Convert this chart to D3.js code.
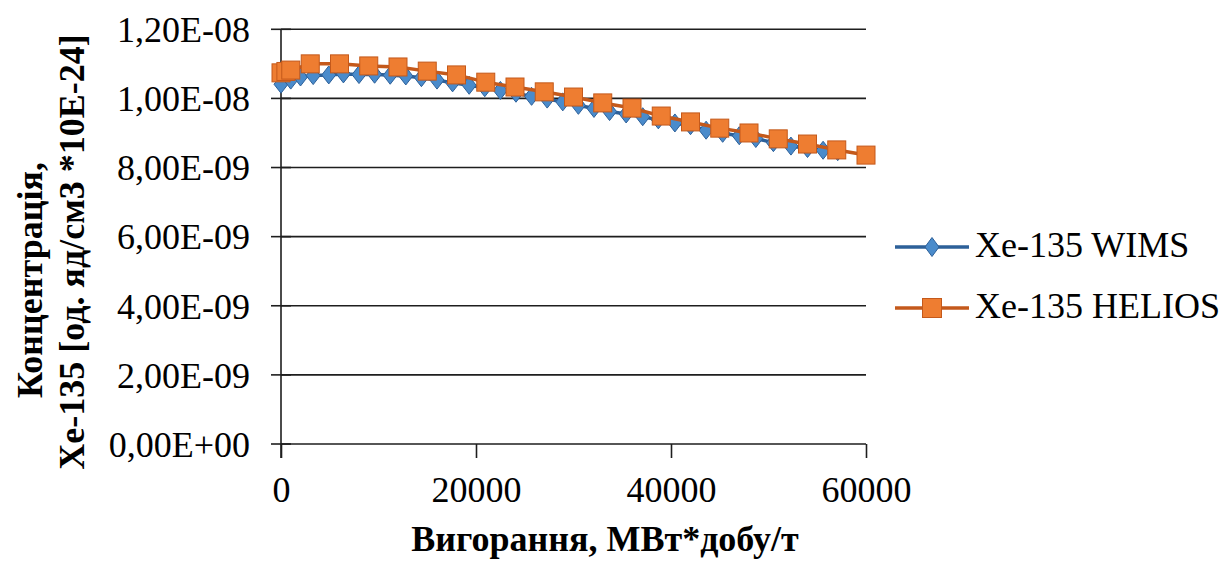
<!DOCTYPE html>
<html>
<head>
<meta charset="utf-8">
<script src="https://cdn.jsdelivr.net/npm/d3@7"></script>
</head>
<body style="margin:0;background:#fff">
<svg id="chart" width="1223" height="562" font-family="Liberation Serif" style="display:block;font-family:'Liberation Serif'"></svg>
<script>
// ---- data ----
const wimsX = [0, 1000, 2000, 3300, 4900, 6400, 8000, 9600, 11200, 12800, 14400, 16000, 17600, 19300, 20900, 22500, 24100, 25700, 27300, 28900, 30500, 32100, 33700, 35400, 37100, 38700, 40400, 42000, 43600, 45300, 47000, 48700, 50500, 52300, 54000, 55600, 57100];
const wimsY = [1.041e-8, 1.053e-8, 1.062e-8, 1.066e-8, 1.068e-8, 1.071e-8, 1.069e-8, 1.070e-8, 1.067e-8, 1.065e-8, 1.060e-8, 1.053e-8, 1.045e-8, 1.038e-8, 1.031e-8, 1.023e-8, 1.015e-8, 1.006e-8, 0.998e-8, 0.990e-8, 0.980e-8, 0.971e-8, 0.962e-8, 0.955e-8, 0.947e-8, 0.938e-8, 0.929e-8, 0.921e-8, 0.908e-8, 0.899e-8, 0.892e-8, 0.884e-8, 0.872e-8, 0.862e-8, 0.855e-8, 0.850e-8, 0.846e-8];
const heliosX = [0, 500, 1000, 3000, 6000, 9000, 12000, 15000, 18000, 21000, 24000, 27000, 30000, 33000, 36000, 39000, 42000, 45000, 48000, 51000, 54000, 57000, 60000];
const heliosY = [1.074e-8, 1.078e-8, 1.082e-8, 1.100e-8, 1.100e-8, 1.094e-8, 1.091e-8, 1.079e-8, 1.068e-8, 1.047e-8, 1.033e-8, 1.019e-8, 1.004e-8, 0.987e-8, 0.972e-8, 0.949e-8, 0.932e-8, 0.914e-8, 0.900e-8, 0.883e-8, 0.868e-8, 0.851e-8, 0.836e-8];
const seriesNames = ["Xe-135 WIMS", "Xe-135 HELIOS"];
const xTickValues = [0, 20000, 40000, 60000];
const xTickLabels = ["0", "20000", "40000", "60000"];
const yTickValues = [0, 2e-9, 4e-9, 6e-9, 8e-9, 1e-8, 1.2e-8];
const yTickLabels = ["0,00E+00", "2,00E-09", "4,00E-09", "6,00E-09", "8,00E-09", "1,00E-08", "1,20E-08"];
const xTitle = "Вигорання, МВт*добу/т";
const yTitleLines = ["Концентрація,", "Xe-135 [од. яд/см3 *10E-24]"];

// ---- layout ----
const svg = d3.select("#chart");
const x = d3.scaleLinear().domain([0, 60000]).range([281, 866]);
const y = d3.scaleLinear().domain([0, 1.2e-8]).range([444, 29.3]);

const blueLine = "#2D6099", blueFill = "#4A8BCB";
const orangeLine = "#C4591B", orangeFill = "#EE7D31";
const fontName = "Liberation Serif";

function serif(sel) {
  sel.attr("font-family", `"${fontName}"`).attr("font-size", 36).attr("fill", "#000");
  return sel;
}

// gridlines
svg.append("g").selectAll("line").data(yTickValues.filter(v => v > 0)).join("line")
  .attr("x1", x(0)).attr("x2", x(60000))
  .attr("y1", d => y(d)).attr("y2", d => y(d))
  .attr("stroke", "#1e1e1e").attr("stroke-width", 1.6);

// y axis
const yAxis = d3.axisLeft(y).tickValues(yTickValues)
  .tickFormat((d, i) => yTickLabels[i]).tickSize(0).tickPadding(31);
const gy = svg.append("g").attr("transform", `translate(${x(0)},0)`).call(yAxis);
gy.attr("font-family", `"${fontName}"`).attr("font-size", 36);
gy.select(".domain").remove();
serif(gy.selectAll("text")).attr("dy", "0.34em");
svg.append("line").attr("x1", x(0)).attr("x2", x(0)).attr("y1", y(1.2e-8)).attr("y2", y(0) + 14)
  .attr("stroke", "#1e1e1e").attr("stroke-width", 1.6);
svg.append("g").selectAll("line").data(yTickValues).join("line")
  .attr("x1", x(0) - 10).attr("x2", x(0) + 10)
  .attr("y1", d => y(d)).attr("y2", d => y(d))
  .attr("stroke", "#1e1e1e").attr("stroke-width", 1.6);

// x axis
const xAxis = d3.axisBottom(x).tickValues(xTickValues)
  .tickFormat((d, i) => xTickLabels[i]).tickSize(14).tickPadding(18);
const gx = svg.append("g").attr("transform", `translate(0,${y(0)})`).call(xAxis);
gx.attr("font-family", `"${fontName}"`).attr("font-size", 36);
gx.select(".domain").attr("d", `M${x(0)},0H${x(60000)}`).attr("stroke", "#1e1e1e").attr("stroke-width", 1.6);
gx.selectAll(".tick line").attr("stroke", "#1e1e1e").attr("stroke-width", 1.6);
serif(gx.selectAll("text"));

// series lines
const line = d3.line().x(d => x(d[0])).y(d => y(d[1]));
const wims = wimsX.map((v, i) => [v, wimsY[i]]);
const helios = heliosX.map((v, i) => [v, heliosY[i]]);

const diamond = "M0,-9L7,0L0,9L-7,0Z";

svg.append("path").datum(wims).attr("d", line).attr("fill", "none")
  .attr("stroke", blueLine).attr("stroke-width", 3.5).attr("stroke-linejoin", "round");
svg.append("g").selectAll("path").data(wims).join("path")
  .attr("transform", d => `translate(${x(d[0])},${y(d[1])})`)
  .attr("d", diamond).attr("fill", blueFill).attr("stroke", blueLine).attr("stroke-width", 1);

svg.append("path").datum(helios).attr("d", line).attr("fill", "none")
  .attr("stroke", orangeLine).attr("stroke-width", 3.5).attr("stroke-linejoin", "round");
svg.append("g").selectAll("rect").data(helios).join("rect")
  .attr("x", d => x(d[0]) - 9).attr("y", d => y(d[1]) - 9)
  .attr("width", 18).attr("height", 18)
  .attr("fill", orangeFill).attr("stroke", orangeLine).attr("stroke-width", 1);

// legend
const legend = svg.append("g");
const legY = [247, 308];
legend.append("line").attr("x1", 895).attr("x2", 969).attr("y1", legY[0]).attr("y2", legY[0])
  .attr("stroke", blueLine).attr("stroke-width", 3.5);
legend.append("path").attr("transform", `translate(932,${legY[0]})`).attr("d", "M0,-9.5L7,0L0,9.5L-7,0Z")
  .attr("fill", blueFill).attr("stroke", blueLine).attr("stroke-width", 1);
legend.append("line").attr("x1", 895).attr("x2", 969).attr("y1", legY[1]).attr("y2", legY[1])
  .attr("stroke", orangeLine).attr("stroke-width", 3.5);
legend.append("rect").attr("x", 932 - 9.5).attr("y", legY[1] - 9.5).attr("width", 19).attr("height", 19)
  .attr("fill", orangeFill).attr("stroke", orangeLine).attr("stroke-width", 1);
serif(legend.selectAll("text").data(seriesNames).join("text")
  .attr("x", 975).attr("y", (d, i) => legY[i] + 10)).text(d => d);

// axis titles
serif(svg.append("text").attr("x", 605).attr("y", 551).attr("text-anchor", "middle"))
  .attr("font-weight", "bold").text(xTitle);
serif(svg.append("text").attr("transform", "translate(42,280) rotate(-90)").attr("text-anchor", "middle"))
  .attr("font-weight", "bold").text(yTitleLines[0]);
serif(svg.append("text").attr("transform", "translate(84,252) rotate(-90)").attr("text-anchor", "middle"))
  .attr("font-weight", "bold").text(yTitleLines[1]);
</script>
</body>
</html>
